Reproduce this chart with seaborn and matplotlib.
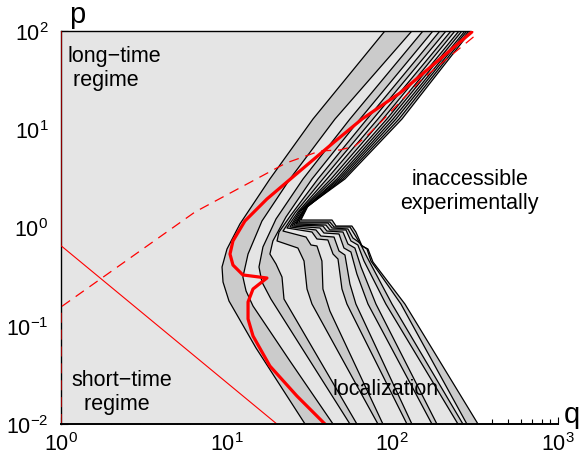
import numpy as np
import pandas as pd
import matplotlib
matplotlib.use("Agg")
import matplotlib.pyplot as plt
import seaborn as sns

sns.set_theme(style="white")
plt.rcParams["font.family"] = ["Liberation Sans", "DejaVu Sans"]
plt.rcParams["mathtext.fontset"] = "custom"
plt.rcParams["mathtext.rm"] = "Liberation Sans"
plt.rcParams["mathtext.it"] = "Liberation Sans:italic"
plt.rcParams["text.color"] = "black"
plt.rcParams["xtick.color"] = "black"
plt.rcParams["ytick.color"] = "black"
plt.rcParams["xtick.labelcolor"] = "black"
plt.rcParams["ytick.labelcolor"] = "black"

Q_LIM = (1, 1000)
P_LIM = (0.01, 100)
q_ticks = [1, 10, 100, 1000]
p_ticks = [0.01, 0.1, 1, 10, 100]

# Contour family, innermost first, given as log10(q) / log10(p) along each curve
c01_lq = [1.955, 1.521, 1.261, 1.080, 1.002, 0.972, 0.978, 1.014, 1.177, 1.473]
c01_lp = [2.0, 1.104, 0.494, 0.036, -0.219, -0.402, -0.555, -0.748, -1.226, -2.0]
c02_lq = [2.118, 1.654, 1.382, 1.213, 1.129, 1.098, 1.117, 1.159, 1.382, 1.642]
c02_lp = [2.0, 1.104, 0.494, 0.066, -0.270, -0.504, -0.646, -0.799, -1.359, -2.0]
c03_lq = [2.185, 1.744, 1.461, 1.298, 1.219, 1.195, 1.213, 1.267, 1.744]
c03_lp = [2.0, 1.104, 0.494, 0.087, -0.198, -0.402, -0.555, -0.728, -2.0]
c04_lq = [2.245, 1.805, 1.515, 1.358, 1.279, 1.261, 1.298, 1.334, 1.346, 1.786]
c04_lp = [2.0, 1.104, 0.494, 0.107, -0.137, -0.270, -0.372, -0.504, -0.728, -2.0]
c05_lq = [2.287, 1.847, 1.551, 1.388, 1.316, 1.304, 1.430, 1.467, 1.485, 1.515, 1.913]
c05_lp = [2.0, 1.104, 0.494, 0.127, -0.046, -0.137, -0.209, -0.341, -0.626, -0.779, -2.0]
c06_lq = [2.324, 1.883, 1.581, 1.412, 1.340, 1.479, 1.509, 1.545, 1.575, 1.581, 1.623, 1.943]
c06_lp = [2.0, 1.104, 0.494, 0.148, -0.036, -0.097, -0.178, -0.188, -0.341, -0.626, -0.850, -2.0]
c07_lq = [2.354, 1.913, 1.605, 1.430, 1.364, 1.515, 1.545, 1.611, 1.642, 1.672, 1.696, 1.726, 2.088]
c07_lp = [2.0, 1.104, 0.494, 0.158, -0.005, -0.046, -0.117, -0.127, -0.270, -0.321, -0.626, -0.779, -2.0]
c08_lq = [2.378, 1.943, 1.630, 1.442, 1.382, 1.539, 1.569, 1.648, 1.678, 1.714, 1.744, 1.780, 2.118]
c08_lp = [2.0, 1.104, 0.494, 0.168, 0.005, -0.025, -0.087, -0.097, -0.239, -0.280, -0.575, -0.779, -2.0]
c09_lq = [2.402, 1.967, 1.648, 1.454, 1.394, 1.563, 1.587, 1.678, 1.708, 1.750, 1.786, 1.853, 2.239]
c09_lp = [2.0, 1.104, 0.494, 0.178, 0.015, -0.005, -0.056, -0.066, -0.209, -0.249, -0.473, -0.779, -2.0]
c10_lq = [2.420, 1.986, 1.666, 1.467, 1.406, 1.581, 1.605, 1.702, 1.732, 1.774, 1.811, 1.901, 2.269]
c10_lp = [2.0, 1.104, 0.494, 0.188, 0.025, 0.015, -0.036, -0.046, -0.168, -0.209, -0.402, -0.779, -2.0]
c11_lq = [2.438, 2.004, 1.678, 1.473, 1.418, 1.599, 1.623, 1.720, 1.750, 1.792, 1.829, 1.961, 2.396]
c11_lp = [2.0, 1.104, 0.494, 0.199, 0.036, 0.025, -0.025, -0.025, -0.137, -0.178, -0.341, -0.779, -2.0]
c12_lq = [2.450, 2.022, 1.690, 1.479, 1.424, 1.611, 1.636, 1.732, 1.762, 1.805, 1.847, 1.998, 2.426]
c12_lp = [2.0, 1.104, 0.494, 0.199, 0.046, 0.046, -0.005, -0.015, -0.107, -0.158, -0.300, -0.779, -2.0]
c13_lq = [2.462, 2.040, 1.702, 1.485, 1.436, 1.623, 1.648, 1.744, 1.774, 1.811, 1.847, 1.871, 2.052, 2.450]
c13_lp = [2.0, 1.104, 0.494, 0.209, 0.056, 0.056, 0.005, 0.005, -0.076, -0.178, -0.219, -0.341, -0.779, -2.0]
c14_lq = [2.474, 2.058, 1.714, 1.491, 1.448, 1.636, 1.660, 1.756, 1.780, 1.817, 1.853, 1.883, 2.076, 2.517]
c14_lp = [2.0, 1.104, 0.494, 0.219, 0.076, 0.076, 0.015, 0.015, -0.046, -0.188, -0.219, -0.351, -0.779, -2.0]

# Red threshold curve (thick), crossover line (dashed) and short-time bound (thin)
red_lq = [2.480, 2.245, 2.046, 1.817, 1.642, 1.442, 1.243, 1.110, 1.038, 1.020, 1.038,
          1.098, 1.243, 1.159, 1.129, 1.129, 1.159, 1.261, 1.424, 1.593]
red_lp = [1.990, 1.654, 1.369, 1.104, 0.860, 0.575, 0.290, 0.066, -0.137, -0.270, -0.382,
          -0.483, -0.514, -0.626, -0.758, -0.931, -1.104, -1.410, -1.715, -2.0]
dash_lq = [0.0, 0.0, 0.809, 1.358, 1.563, 1.684, 1.774, 1.859, 1.937, 2.167, 2.511]
dash_lp = [-2.0, -0.809, 0.158, 0.656, 0.779, 0.789, 0.830, 0.952, 1.084, 1.491, 1.969]
thin_lq = [0.0, 0.0, 1.303]
thin_lp = [2.0, -0.185, -2.0]

contours = [
    (c01_lq, c01_lp), (c02_lq, c02_lp), (c03_lq, c03_lp), (c04_lq, c04_lp),
    (c05_lq, c05_lp), (c06_lq, c06_lp), (c07_lq, c07_lp), (c08_lq, c08_lp),
    (c09_lq, c09_lp), (c10_lq, c10_lp), (c11_lq, c11_lp), (c12_lq, c12_lp),
    (c13_lq, c13_lp), (c14_lq, c14_lp),
]

LIGHT = "#e5e5e5"
DARK = "#cbcbcb"

fig = plt.figure(figsize=(5.85, 4.6), dpi=100)
ax = fig.add_axes([61 / 585, 35 / 460, 497 / 585, 393 / 460])
ax.set_xscale("log")
ax.set_yscale("log")
ax.set_xlim(*Q_LIM)
ax.set_ylim(*P_LIM)
ax.set_axisbelow(True)

# nested shaded regions: painting from the outermost contour inwards leaves alternating bands
for k in range(len(contours), 0, -1):
    lq, lp = contours[k - 1]
    q = 10 ** np.asarray(lq)
    p = 10 ** np.asarray(lp)
    ax.fill(np.concatenate([q, [Q_LIM[0], Q_LIM[0]]]),
            np.concatenate([p, [P_LIM[0], P_LIM[1]]]),
            color=DARK if k % 2 == 0 else LIGHT, lw=0, zorder=1)

for k, (lq, lp) in enumerate(contours):
    df = pd.DataFrame({"q": 10 ** np.asarray(lq), "p": 10 ** np.asarray(lp)})
    sns.lineplot(data=df, x="q", y="p", sort=False, estimator=None,
                 color="black", lw=0.9, ax=ax, zorder=2)

# upper edge of the shaded domain
ax.plot([Q_LIM[0], 10 ** c14_lq[0]], [P_LIM[1], P_LIM[1]], color="black", lw=1.0,
        zorder=2, clip_on=False)

sns.lineplot(x=10 ** np.asarray(thin_lq), y=10 ** np.asarray(thin_lp), sort=False,
             estimator=None, color="red", lw=0.8, ax=ax, zorder=3)
sns.lineplot(x=10 ** np.asarray(dash_lq), y=10 ** np.asarray(dash_lp), sort=False,
             estimator=None, color="red", lw=0.9, ax=ax, zorder=3,
             linestyle=(0, (8, 5.5)))
sns.lineplot(x=10 ** np.asarray(red_lq), y=10 ** np.asarray(red_lp), sort=False,
             estimator=None, color="red", lw=2.3, ax=ax, zorder=4)

for side in ("top", "right"):
    ax.spines[side].set_visible(False)
ax.spines["bottom"].set_color("black")
ax.spines["bottom"].set_linewidth(1.4)
ax.spines["left"].set_color("black")
ax.spines["left"].set_linewidth(1.0)
ax.spines["bottom"].set_zorder(5)

ax.set_xticks(q_ticks)
ax.set_yticks(p_ticks)
ax.tick_params(axis="both", which="both", direction="in", colors="black",
               labelcolor="black", labelsize=15.5, left=True, bottom=True)
ax.tick_params(axis="both", which="major", length=5, width=0.8)
ax.tick_params(axis="both", which="minor", length=3.5, width=0.8)
ax.tick_params(axis="x", which="major", pad=6)
ax.tick_params(axis="y", which="major", pad=9)
ax.set_xlabel("")
ax.set_ylabel("")

fig.text(69 / 585, 1 - 23 / 460, "p", fontsize=21, ha="left", va="baseline")
fig.text(564 / 585, 1 - 423 / 460, "q", fontsize=21, ha="left", va="baseline")

ax.text(1.09, 10 ** 1.628, "long\u2212time\n regime", fontsize=15.5, ha="left",
        va="center", linespacing=1.15)
ax.text(1.16, 10 ** -1.669, "short\u2212time\n  regime", fontsize=15.5, ha="left",
        va="center", linespacing=1.15)
ax.text(10 ** 2.468, 10 ** 0.377, "inaccessible\nexperimentally", fontsize=15.5,
        ha="center", va="center", linespacing=1.15)
ax.text(10 ** 1.96, 10 ** -1.64, "localization", fontsize=15.5, ha="center",
        va="center")

fig.savefig("out.png", dpi=100)
